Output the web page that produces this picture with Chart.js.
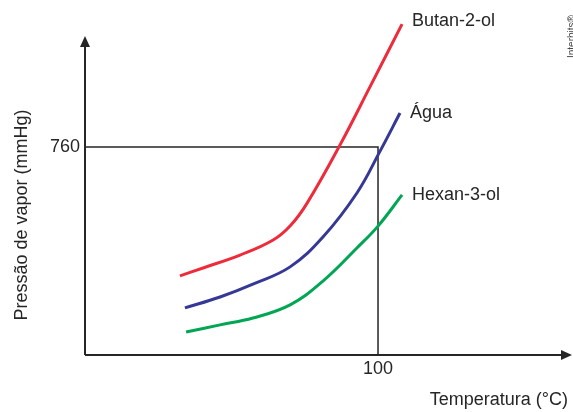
<!DOCTYPE html>
<html>
<head>
<meta charset="utf-8">
<script src="https://cdn.jsdelivr.net/npm/chart.js@4"></script>
<style>
  html, body { margin: 0; padding: 0; background: #fff; }
  #wrap { width: 573px; height: 412px; position: relative; }
</style>
</head>
<body>
<div id="wrap"><canvas id="vapor-chart"></canvas></div>
<script>
// curves (temperature in °C, pressure in mmHg)
const butanT = [32.4, 40.3, 52.9, 64.2, 70.3, 75.8, 87.0, 97.6, 108.2];
const butanP = [289, 318, 365, 420, 475, 555, 767, 987, 1209];
const aguaT = [34.1, 46.1, 57.3, 70.0, 81.2, 92.8, 100.7, 107.5];
const aguaP = [172, 212, 259, 322, 431, 592, 745, 884];
const hexanT = [34.5, 46.1, 57.3, 70.0, 81.2, 92.8, 100, 108.2];
const hexanP = [84, 110, 135, 183, 270, 391, 471, 585];
const guideT = [0, 100, 100];
const guideP = [760, 760, 0];
const seriesNames = ["Butan-2-ol", "Água", "Hexan-3-ol"];
const seriesColors = ["#ee2b3b", "#353894", "#00a654"];
const xTicks = [100];
const yTicks = [760];
const xTitle = "Temperatura (°C)";
const yTitle = "Pressão de vapor (mmHg)";

const FONT = '"Liberation Sans", Arial, sans-serif';
const INK = "#262626";

const toPoints = (xs, ys) => xs.map((x, i) => ({ x, y: ys[i] }));

function curve(name, xs, ys, color) {
  return {
    label: name,
    data: toPoints(xs, ys),
    borderColor: color,
    borderWidth: 3,
    pointRadius: 0,
    tension: 0.4,
    clip: false,
  };
}

const drawingPlugin = {
  id: "drawing",
  beforeDatasetsDraw(chart) {
    const { ctx, chartArea: a } = chart;
    ctx.save();
    ctx.strokeStyle = INK;
    ctx.fillStyle = INK;
    ctx.lineWidth = 2;
    // axes
    ctx.beginPath();
    ctx.moveTo(a.left, a.bottom);
    ctx.lineTo(a.left, a.top + 8);
    ctx.moveTo(a.left, a.bottom);
    ctx.lineTo(a.right - 8, a.bottom);
    ctx.stroke();
    // arrow heads
    ctx.beginPath();
    ctx.moveTo(a.left, a.top);
    ctx.lineTo(a.left - 5, a.top + 11);
    ctx.lineTo(a.left + 5, a.top + 11);
    ctx.closePath();
    ctx.fill();
    ctx.beginPath();
    ctx.moveTo(a.right, a.bottom);
    ctx.lineTo(a.right - 11, a.bottom - 5);
    ctx.lineTo(a.right - 11, a.bottom + 5);
    ctx.closePath();
    ctx.fill();
    ctx.restore();
  },
  afterDraw(chart) {
    const { ctx, chartArea: a, scales } = chart;
    ctx.save();
    ctx.fillStyle = INK;
    ctx.font = `18px ${FONT}`;
    ctx.textBaseline = "middle";
    ctx.textAlign = "right";
    yTicks.forEach((v) => ctx.fillText(String(v), a.left - 5, scales.y.getPixelForValue(v)));
    ctx.textAlign = "center";
    xTicks.forEach((v) => ctx.fillText(String(v), scales.x.getPixelForValue(v), a.bottom + 14));
    // axis titles
    ctx.textAlign = "right";
    ctx.fillText(xTitle, a.right - 4, a.bottom + 45);
    ctx.save();
    ctx.translate(22, 215);
    ctx.rotate(-Math.PI / 2);
    ctx.textAlign = "center";
    ctx.fillText(yTitle, 0, 0);
    ctx.restore();
    // curve names at the end of each curve
    ctx.textAlign = "left";
    chart.data.datasets.slice(0, 3).forEach((ds, i) => {
      const last = ds.data[ds.data.length - 1];
      const px = scales.x.getPixelForValue(last.x);
      const py = scales.y.getPixelForValue(last.y);
      ctx.fillText(seriesNames[i], px + 10, i === 0 ? py - 3 : py);
    });
    // credit, cut at the right edge
    ctx.save();
    ctx.translate(572, 58);
    ctx.rotate(-Math.PI / 2);
    ctx.font = `10px ${FONT}`;
    ctx.textAlign = "left";
    ctx.fillStyle = "#444";
    ctx.fillText("Interbits®", 0, 0);
    ctx.restore();
    ctx.restore();
  },
};

new Chart(document.getElementById("vapor-chart"), {
  type: "line",
  data: {
    datasets: [
      curve(seriesNames[0], butanT, butanP, seriesColors[0]),
      curve(seriesNames[1], aguaT, aguaP, seriesColors[1]),
      curve(seriesNames[2], hexanT, hexanP, seriesColors[2]),
      {
        label: "guide",
        data: toPoints(guideT, guideP),
        borderColor: INK,
        borderWidth: 1.5,
        pointRadius: 0,
        tension: 0,
      },
    ],
  },
  options: {
    responsive: true,
    maintainAspectRatio: false,
    animation: false,
    layout: { padding: { left: 85, right: 1, top: 36, bottom: 57 } },
    plugins: { legend: { display: false }, tooltip: { enabled: false } },
    scales: {
      x: { type: "linear", min: 0, max: 166.2, display: false },
      y: { type: "linear", min: 0, max: 1165.6, display: false },
    },
  },
  plugins: [drawingPlugin],
});
</script>
</body>
</html>
